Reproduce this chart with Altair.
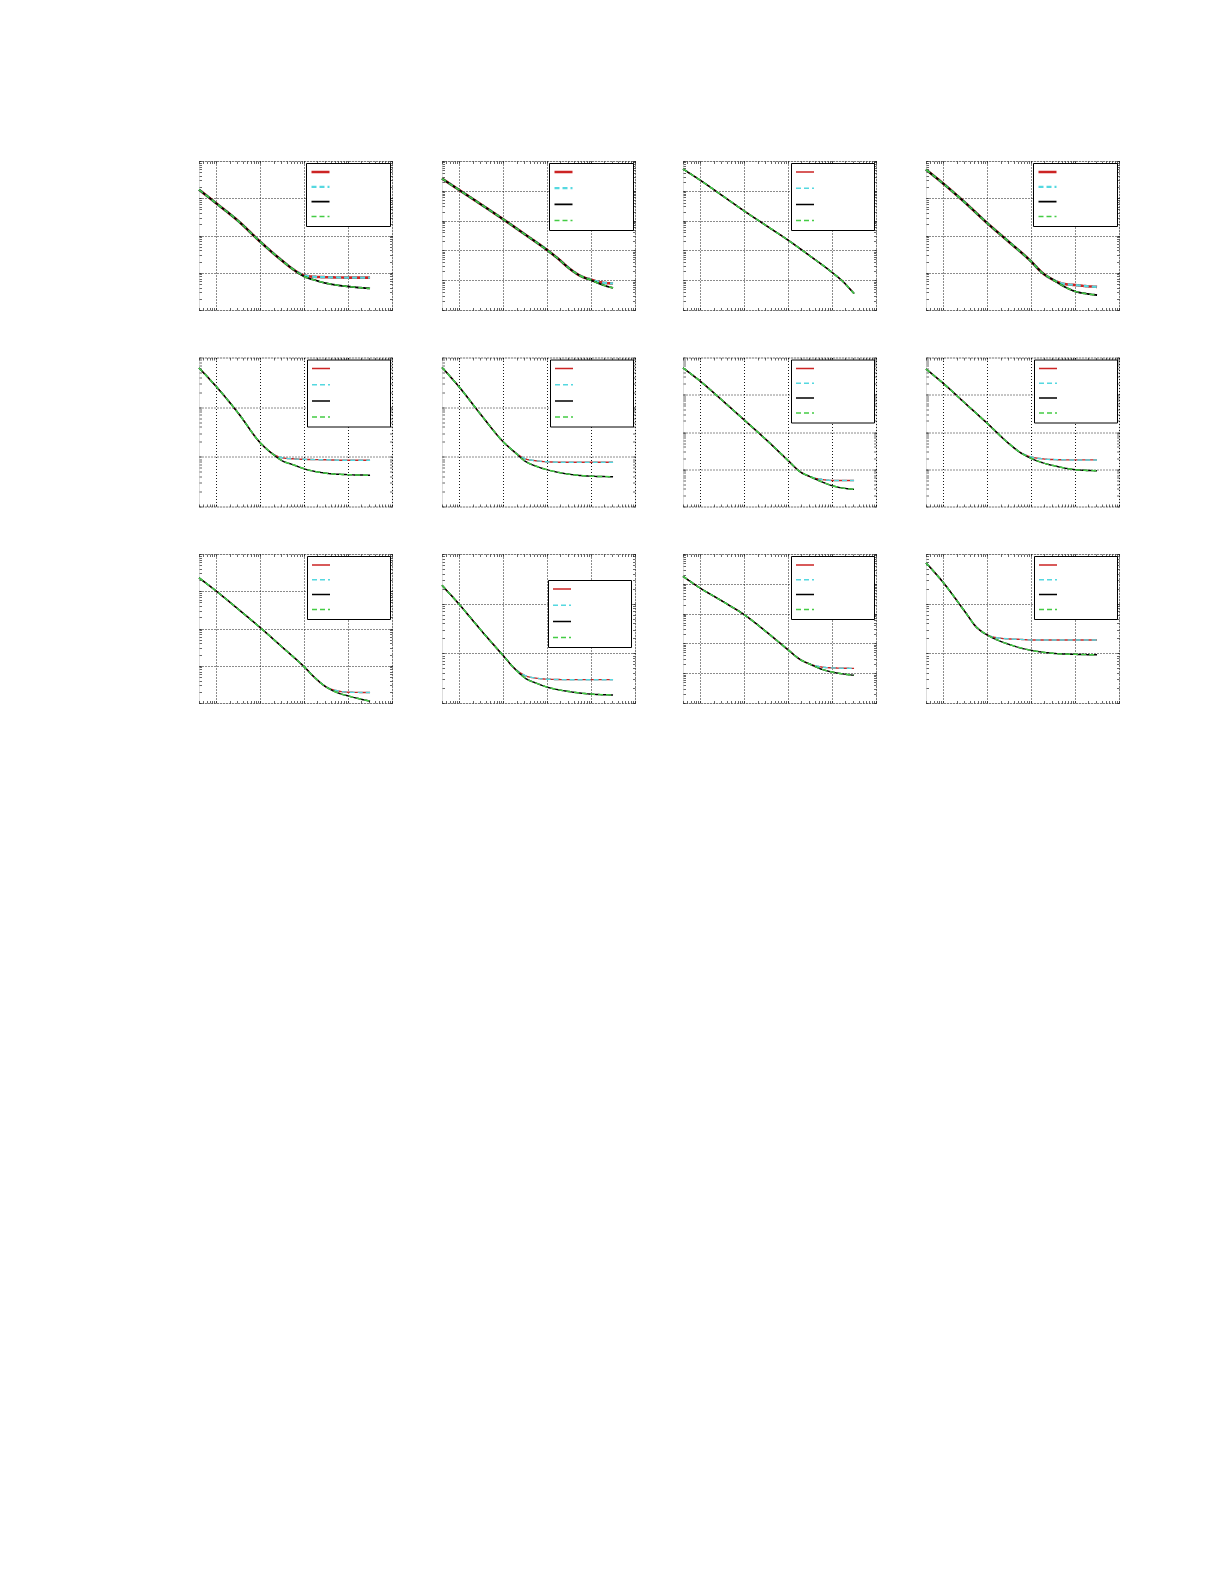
import altair as alt
import pandas as pd

# ---------------- data ----------------
SERIES = ["a", "b", "c", "d"]          # red, cyan dashed, black, green dashed
COLORS = ["#cc2424", "#55d8e0", "#000000", "#44cc44"]
DASHES = [[1, 0], [5, 3], [1, 0], [5, 3]]

P1_X = [4, 10, 32, 100, 316, 562, 1000, 1780, 3160, 10000, 31600]
P1_LOW = [0.170, 0.0724, 0.0240, 0.00676, 0.00209, 0.00123, 0.000794, 0.000631, 0.000525, 0.000427, 0.000380]
P1_HIGH = [0.170, 0.0724, 0.0240, 0.00676, 0.00209, 0.00123, 0.000851, 0.000776, 0.000759, 0.000741, 0.000741]

P2_X = [4, 10, 32, 100, 316, 1000, 1780, 3160, 5620, 10000, 17800, 31600]
P2_LOW = [0.257, 0.105, 0.0339, 0.0110, 0.00339, 0.00102, 0.000525, 0.000251, 0.000141, 0.000100, 7.08e-5, 5.50e-5]
P2_HIGH = [0.257, 0.105, 0.0339, 0.0110, 0.00339, 0.00102, 0.000525, 0.000251, 0.000141, 0.000105, 8.32e-5, 7.76e-5]

P3_X = [4, 10, 32, 100, 316, 1000, 3160, 10000, 17800, 31600]
P3_LOW = [0.537, 0.224, 0.0676, 0.0209, 0.00676, 0.00219, 0.000646, 0.000182, 8.91e-5, 3.55e-5]
P3_HIGH = [0.537, 0.224, 0.0676, 0.0209, 0.00676, 0.00219, 0.000646, 0.000182, 8.91e-5, 3.55e-5]

P4_X = [4, 10, 32, 100, 316, 1000, 1780, 3160, 5620, 10000, 17800, 31600]
P4_LOW = [0.589, 0.245, 0.0741, 0.0214, 0.00661, 0.00200, 0.00100, 0.000646, 0.000427, 0.000316, 0.000275, 0.000251]
P4_HIGH = [0.589, 0.245, 0.0741, 0.0214, 0.00661, 0.00200, 0.00100, 0.000646, 0.000501, 0.000468, 0.000437, 0.000417]

P5_X = [4, 10, 32, 100, 178, 316, 562, 1000, 3160, 10000, 31600]
P5_LOW = [0.617, 0.257, 0.0741, 0.0191, 0.0120, 0.00832, 0.00692, 0.00575, 0.00468, 0.00437, 0.00427]
P5_HIGH = [0.617, 0.257, 0.0741, 0.0191, 0.0120, 0.00955, 0.00912, 0.00891, 0.00871, 0.00851, 0.00851]

P6_X = [4, 10, 32, 100, 178, 316, 562, 1000, 3160, 10000, 31600]
P6_LOW = [0.631, 0.251, 0.0676, 0.0200, 0.0126, 0.00813, 0.00646, 0.00550, 0.00447, 0.00407, 0.00398]
P6_HIGH = [0.631, 0.251, 0.0676, 0.0200, 0.0126, 0.00912, 0.00832, 0.00794, 0.00776, 0.00776, 0.00776]

P7_X = [4, 10, 32, 100, 316, 1000, 1780, 3160, 5620, 10000, 31600]
P7_LOW = [0.525, 0.229, 0.0692, 0.0209, 0.00617, 0.00170, 0.000891, 0.000631, 0.000468, 0.000363, 0.000288]
P7_HIGH = [0.525, 0.229, 0.0692, 0.0209, 0.00617, 0.00170, 0.000891, 0.000631, 0.000537, 0.000501, 0.000501]

P8_X = [4, 10, 32, 100, 316, 562, 1000, 1780, 3160, 10000, 31600]
P8_LOW = [0.490, 0.200, 0.0575, 0.0170, 0.00479, 0.00282, 0.00195, 0.00151, 0.00126, 0.000977, 0.000912]
P8_HIGH = [0.490, 0.200, 0.0575, 0.0170, 0.00479, 0.00282, 0.00214, 0.00191, 0.00182, 0.00178, 0.00178]

P9_X = [4, 10, 32, 100, 316, 1000, 1780, 3160, 5620, 10000, 31600]
P9_LOW = [0.229, 0.100, 0.0324, 0.0105, 0.00316, 0.000933, 0.000468, 0.000269, 0.000191, 0.000155, 0.000112]
P9_HIGH = [0.229, 0.100, 0.0324, 0.0105, 0.00316, 0.000933, 0.000468, 0.000269, 0.000214, 0.000195, 0.000191]

P10_X = [4, 10, 32, 100, 178, 316, 562, 1000, 3160, 10000, 31600]
P10_LOW = [0.234, 0.0955, 0.0282, 0.00891, 0.00501, 0.00316, 0.00251, 0.00209, 0.00170, 0.00151, 0.00145]
P10_HIGH = [0.234, 0.0955, 0.0282, 0.00891, 0.00501, 0.00355, 0.00316, 0.00302, 0.00295, 0.00295, 0.00295]

P11_X = [4, 10, 32, 100, 316, 1000, 1780, 3160, 5620, 10000, 31600]
P11_LOW = [0.178, 0.0708, 0.0257, 0.00912, 0.00245, 0.000603, 0.000302, 0.000200, 0.000138, 0.000110, 8.51e-5]
P11_HIGH = [0.178, 0.0708, 0.0257, 0.00912, 0.00245, 0.000603, 0.000302, 0.000200, 0.000162, 0.000151, 0.000145]

P12_X = [4, 10, 32, 56, 100, 178, 316, 562, 1000, 3160, 10000, 31600]
P12_LOW = [0.661, 0.263, 0.0661, 0.0339, 0.0234, 0.0182, 0.0151, 0.0129, 0.0115, 0.0100, 0.00955, 0.00933]
P12_HIGH = [0.661, 0.263, 0.0661, 0.0339, 0.0234, 0.0204, 0.0195, 0.0191, 0.0186, 0.0186, 0.0186, 0.0186]

# number of decades on each panel's y axis (top is 1)
DECADES = [4, 5, 5, 4, 3, 3, 4, 4, 4, 3, 5, 3]

PANELS = [
    (P1_X, P1_LOW, P1_HIGH), (P2_X, P2_LOW, P2_HIGH), (P3_X, P3_LOW, P3_HIGH), (P4_X, P4_LOW, P4_HIGH),
    (P5_X, P5_LOW, P5_HIGH), (P6_X, P6_LOW, P6_HIGH), (P7_X, P7_LOW, P7_HIGH), (P8_X, P8_LOW, P8_HIGH),
    (P9_X, P9_LOW, P9_HIGH), (P10_X, P10_LOW, P10_HIGH), (P11_X, P11_LOW, P11_HIGH), (P12_X, P12_LOW, P12_HIGH),
]

# ---------------- styles ----------------
RED_W = [2.6, 2.6, 1.4, 2.6, 1.4, 1.4, 1.4, 1.4, 1.4, 1.4, 1.4, 1.4]
GREEN_W = [1.5, 1.5, 1.5, 1.5, 1.5, 1.5, 2.6, 2.6, 2.6, 1.5, 2.6, 2.6]
ROWPAD = [4.8, 6.2, 6.2, 4.8, 6.2, 6.2, 4.8, 4.8, 4.8, 6.2, 4.8, 4.8]
W, H = 193, 149
X_DOMAIN = [4, 100000]
LEG_W = 82

MAJOR = "abs(log(datum.value)/LN10 - round(log(datum.value)/LN10)) < 0.001"


def log_ticks(lo_exp, hi_exp):
    vals = []
    for e in range(lo_exp, hi_exp):
        for k in range(1, 10):
            vals.append(k * 10.0 ** e)
    vals.append(10.0 ** hi_exp)
    return vals


X_TICKS = [v for v in log_ticks(0, 5) if v >= 4]


def make_axis(orient, values, grid):
    return alt.Axis(
        orient=orient, values=values, labels=False, domain=False, title=None,
        ticks=True, tickSize={"expr": "-2.5"}, tickColor="black", tickWidth=0.6,
        grid=grid, gridColor="black", gridDash=[1, 2], gridWidth=1,
        gridOpacity={"condition": {"test": MAJOR, "value": 0.9}, "value": 0},
        minExtent=0, maxExtent=0,
    )


def panel(i):
    xs, low, high = PANELS[i]
    n = DECADES[i]
    rows = []
    for s in SERIES:
        ys = high if s in ("a", "b") else low
        for xv, yv in zip(xs, ys):
            rows.append({"x": xv, "y": yv, "s": s})
    df = pd.DataFrame(rows)

    y_ticks = log_ticks(-n, 0)
    xscale = alt.Scale(type="log", domain=X_DOMAIN)
    yscale = alt.Scale(type="log", domain=[10.0 ** -n, 1])

    if i == 9:
        leg_pos = dict(orient="none", legendX=W - LEG_W - 5, legendY=26)
    else:
        leg_pos = dict(orient="top-right", offset=2)
    legend = alt.Legend(
        title=None, symbolType="stroke", symbolSize=324, clipHeight=10,
        rowPadding=ROWPAD[i], labelOffset=LEG_W - 8 - 18 - 1, padding=4,
        strokeColor="black", fillColor="white",
        labelFont="DejaVu Sans", labelFontSize=10,
        labelExpr="''", **leg_pos,
    )
    color = alt.Color("s:N", scale=alt.Scale(domain=SERIES, range=COLORS), legend=legend)
    dash = alt.StrokeDash("s:N", scale=alt.Scale(domain=SERIES, range=DASHES), legend=legend)
    width = alt.StrokeWidth(
        "s:N",
        scale=alt.Scale(domain=SERIES, range=[RED_W[i], 1.5, 1.4, GREEN_W[i]]),
        legend=legend,
    )

    layers = []
    for j, s in enumerate(SERIES):
        if j == 0:
            xa, ya = make_axis("bottom", X_TICKS, True), make_axis("left", y_ticks, True)
        elif j == 1:
            xa, ya = make_axis("top", X_TICKS, False), make_axis("right", y_ticks, False)
        else:
            xa, ya = None, None
        layers.append(
            alt.Chart(df)
            .transform_filter(alt.datum.s == s)
            .mark_line(interpolate="monotone")
            .encode(
                x=alt.X("x:Q", scale=xscale, axis=xa),
                y=alt.Y("y:Q", scale=yscale, axis=ya),
                color=color, strokeDash=dash, strokeWidth=width,
            )
        )
    return (
        alt.layer(*layers)
        .resolve_axis(x="independent", y="independent")
        .properties(width=W, height=H)
    )


chart = (
    alt.concat(*[panel(i) for i in range(12)], columns=4, spacing={"row": 45.5, "column": 43})
    .resolve_scale(color="independent", strokeDash="independent", strokeWidth="independent")
    .properties(padding={"left": 185, "top": 152, "right": 10, "bottom": 10})
    .configure_view(stroke="black", strokeWidth=1)
    .configure(background="white")
)

chart.save("out.html", embed_options={"renderer": "svg", "actions": False})
